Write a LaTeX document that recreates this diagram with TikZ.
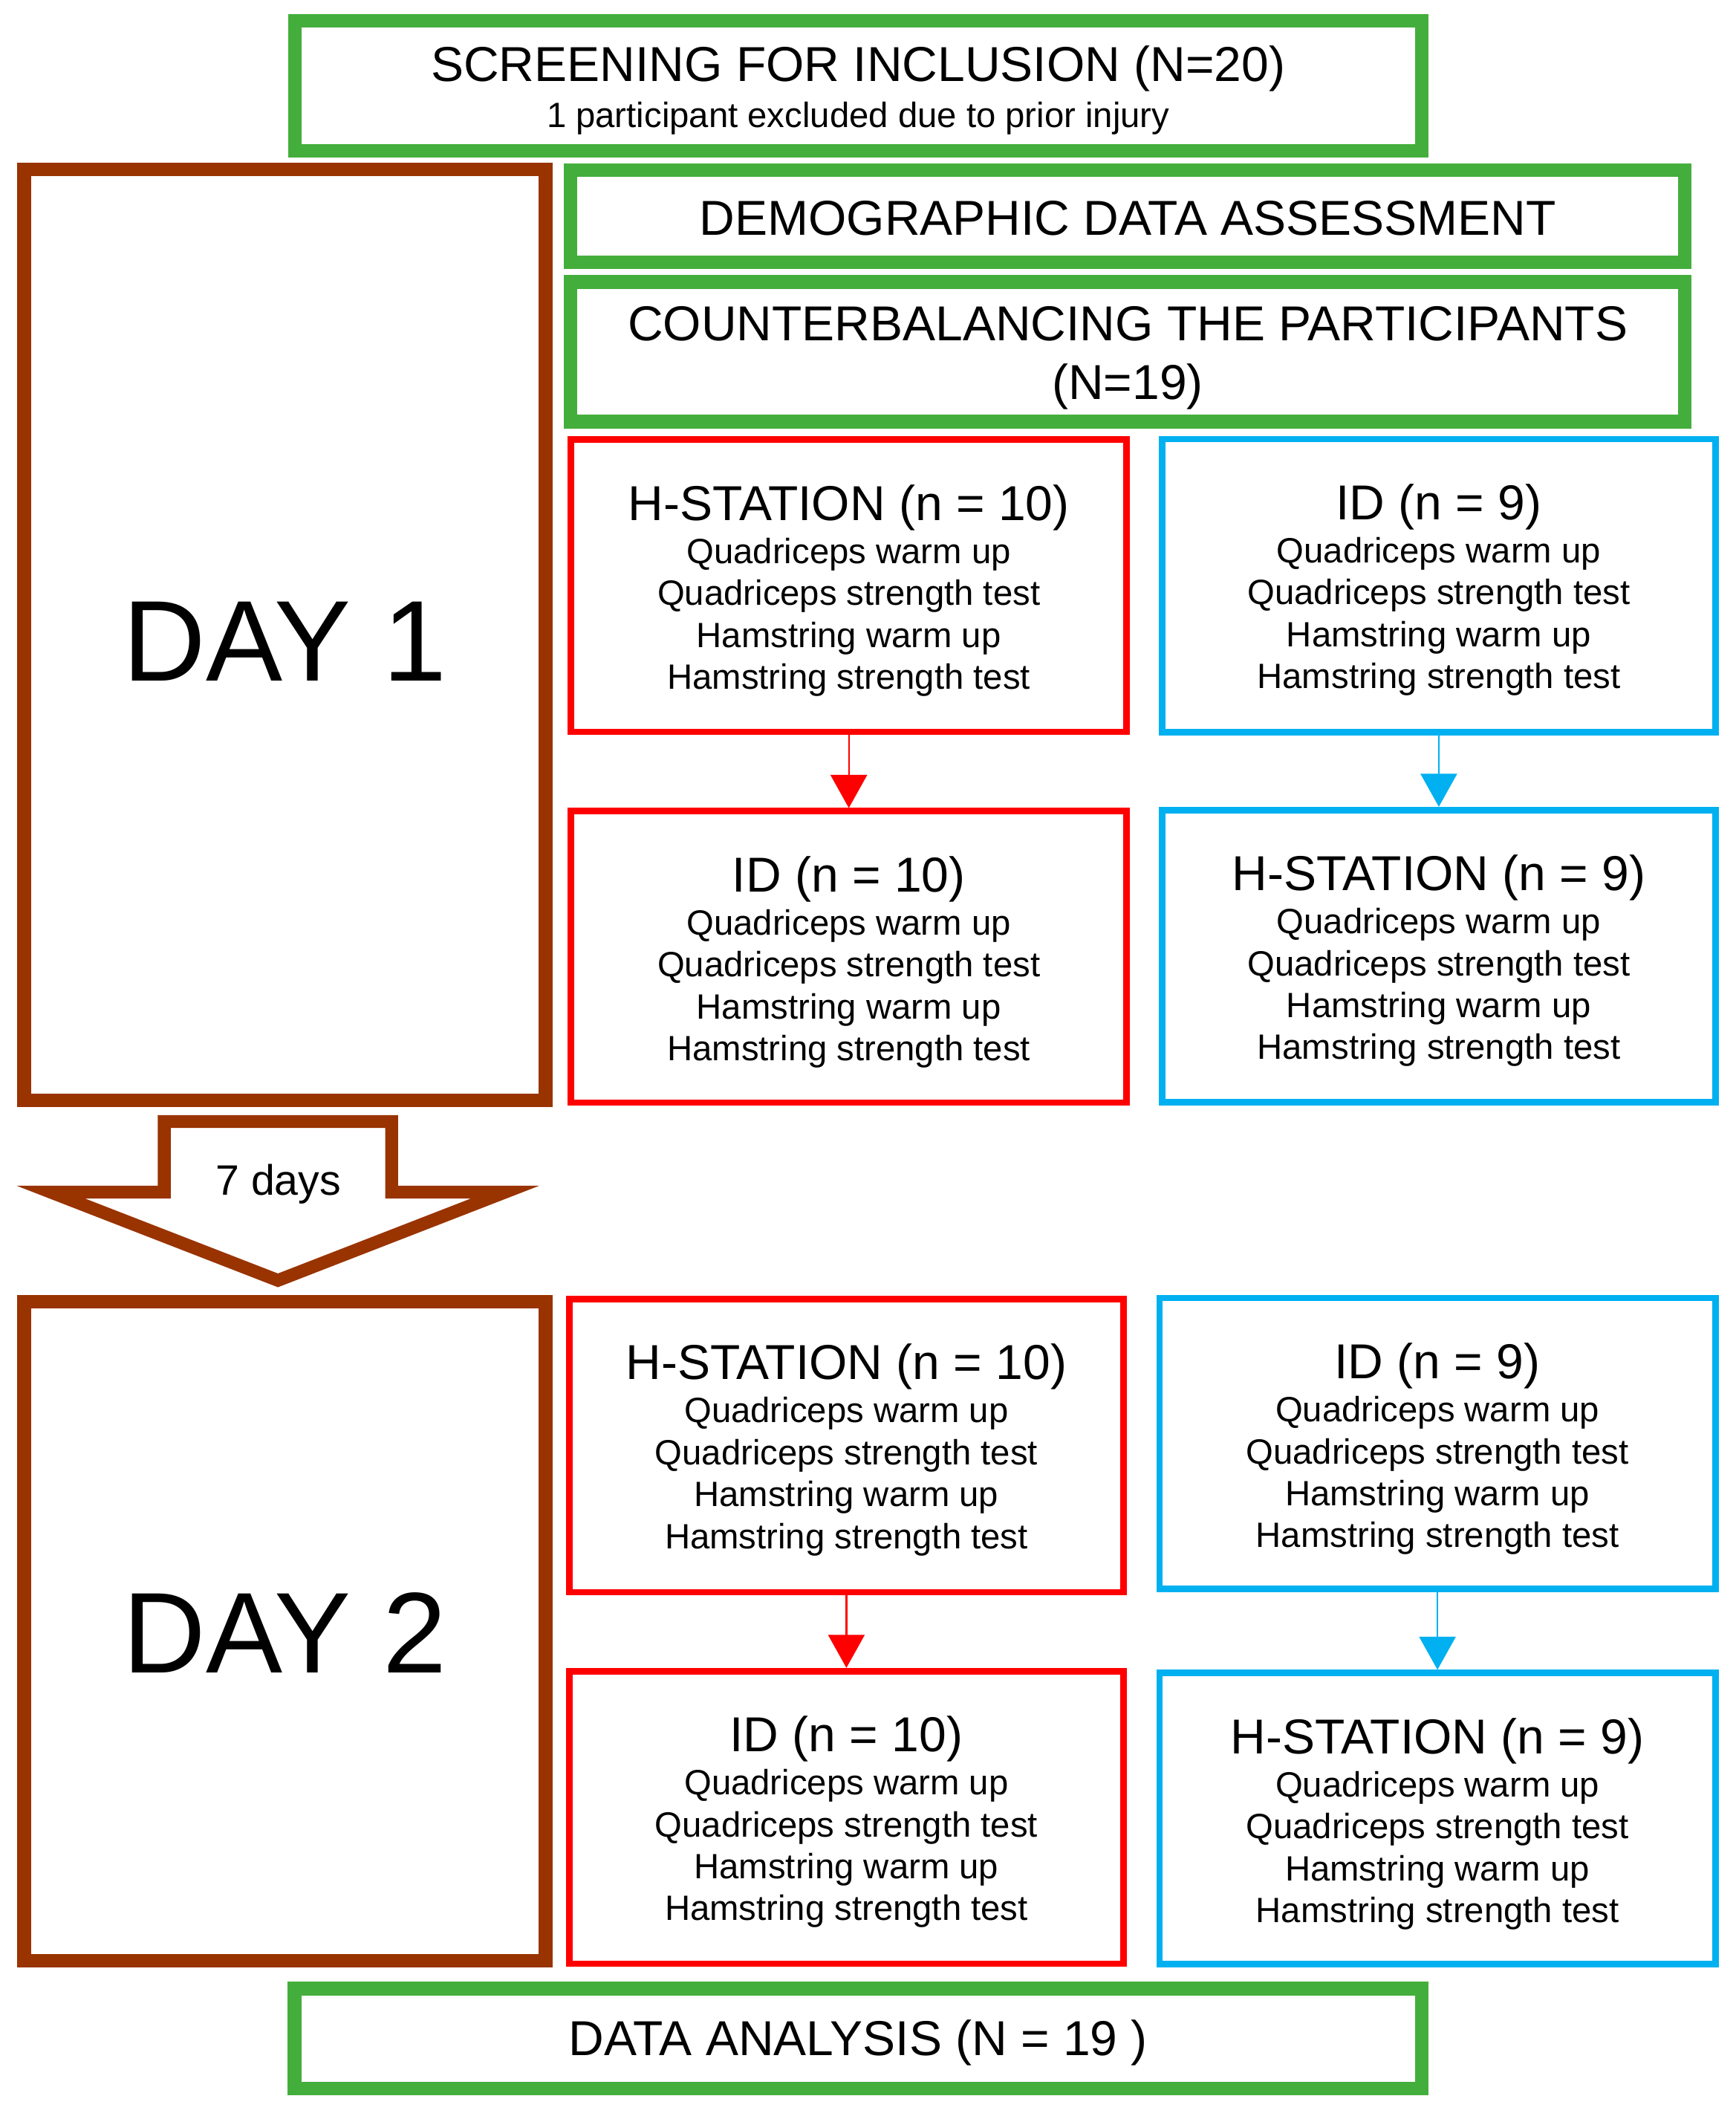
\documentclass[tikz,border=0pt]{standalone}
\usepackage{fontspec}
\setmainfont{Liberation Sans}
\usetikzlibrary{arrows.meta,calc}
\definecolor{grn}{RGB}{68,174,60}
\definecolor{brn}{RGB}{153,51,0}
\definecolor{rd}{RGB}{255,0,0}
\definecolor{blu}{RGB}{0,176,240}
\newcommand\myTitleFont{\fontsize{36.3}{43}\selectfont}
\newcommand\myBodyFont{\fontsize{26}{31}\selectfont}
\newcommand\myDayFont{\fontsize{85}{100}\selectfont}
\newcommand\myArrowFont{\fontsize{31.5}{38}\selectfont}
\newcommand\stationlines[2]{%
  \node[txt, font=\myTitleFont] (#1t) at ($(#1.north)+(0,62)$) {#2};
  \node[txt, font=\myBodyFont] (#1a) at ($(#1.north)+(0,94)$) {Quadriceps warm up};
  \node[txt, font=\myBodyFont] (#1b) at ($(#1.north)+(0,125)$) {Quadriceps strength test};
  \node[txt, font=\myBodyFont] (#1c) at ($(#1.north)+(0,156)$) {Hamstring warm up};
  \node[txt, font=\myBodyFont] (#1d) at ($(#1.north)+(0,187)$) {Hamstring strength test};
}
\begin{document}
\begin{tikzpicture}[x=1pt,y=-1pt,
  gbox/.style={draw=grn, line width=10pt, inner sep=0pt},
  bbox/.style={draw=brn, line width=10.2pt, inner sep=0pt},
  rbox/.style={draw=rd, line width=4.8pt, inner sep=0pt},
  cbox/.style={draw=blu, line width=4.8pt, inner sep=0pt},
  txt/.style={inner sep=0pt, anchor=base},
  rarr/.style={draw=rd, line width=1.3pt, -{Triangle[length=24.5pt,width=27pt]}},
  barr/.style={draw=blu, line width=1.3pt, -{Triangle[length=24.5pt,width=27pt]}}]
\useasboundingbox (0,0) rectangle (1285,1568.3);

% green boxes
\node[gbox, minimum width=834.1pt, minimum height=96.3pt] (scr) at (635.25,63.45) {};
\node[txt, font=\myTitleFont] (scrt) at (635.25,60.1) {SCREENING FOR INCLUSION (N=20)};
\node[txt, font=\myBodyFont] (scrs) at (635.25,94.5) {1 participant excluded due to prior injury};

\node[gbox, minimum width=824.6pt, minimum height=68.5pt] (demo) at (834.8,160.05) {};
\node[txt, font=\myTitleFont] (demot) at (834.8,173.8) {DEMOGRAPHIC DATA ASSESSMENT};

\node[gbox, minimum width=824.6pt, minimum height=103.4pt] (cb) at (834.8,260.4) {};
\node[txt, font=\myTitleFont] (cbt) at (834.8,252.1) {COUNTERBALANCING THE PARTICIPANTS};
\node[txt, font=\myTitleFont] (cbn) at (834.8,295.5) {(N=19)};

\node[gbox, minimum width=834.5pt, minimum height=74.1pt] (data) at (635.25,1508.85) {};
\node[txt, font=\myTitleFont] (datat) at (635.25,1521.5) {DATA ANALYSIS (N = 19 )};

% day boxes
\node[bbox, minimum width=386pt, minimum height=689.1pt] (day1) at (210.9,469.95) {};
\node[txt, font=\myDayFont] (day1t) at (210.9,503.8) {DAY 1};
\node[bbox, minimum width=386pt, minimum height=487.8pt] (day2) at (210.9,1207.2) {};
\node[txt, font=\myDayFont] (day2t) at (210.9,1238) {DAY 2};

% station boxes day 1
\node[rbox, minimum width=411.3pt, minimum height=216.2pt] (r1) at (628.35,433.5) {};
\node[rbox, minimum width=411.3pt, minimum height=215.7pt] (r2) at (628.35,708.25) {};
\node[cbox, minimum width=409.4pt, minimum height=216.9pt] (b1) at (1065.1,433.45) {};
\node[cbox, minimum width=409.4pt, minimum height=216.1pt] (b2) at (1065.1,707.55) {};
% station boxes day 2
\node[rbox, minimum width=410.5pt, minimum height=217pt] (r3) at (626.55,1069.9) {};
\node[rbox, minimum width=410.5pt, minimum height=216.6pt] (r4) at (626.55,1345.1) {};
\node[cbox, minimum width=411.4pt, minimum height=215.1pt] (b3) at (1064.1,1068.25) {};
\node[cbox, minimum width=411.4pt, minimum height=215.4pt] (b4) at (1064.1,1345.9) {};

\stationlines{r1}{H-STATION (n = 10)}
\stationlines{r2}{ID (n = 10)}
\stationlines{b1}{ID (n = 9)}
\stationlines{b2}{H-STATION (n = 9)}
\stationlines{r3}{H-STATION (n = 10)}
\stationlines{r4}{ID (n = 10)}
\stationlines{b3}{ID (n = 9)}
\stationlines{b4}{H-STATION (n = 9)}

% connectors
\draw[rarr] (r1.south) -- (r2.north);
\draw[barr] (b1.south) -- (b2.north);
\draw[rarr] (r3.south) -- (r4.north);
\draw[barr] (b3.south) -- (b4.north);

% 7 days block arrow
\coordinate (a1) at (121.6,830);
\coordinate (a2) at (289.9,830);
\coordinate (a3) at (289.9,882.3);
\coordinate (a4) at (373.9,882.3);
\coordinate (a5) at (205.75,947.6);
\coordinate (a6) at (37.6,882.3);
\coordinate (a7) at (121.6,882.3);
\draw[brn, line width=9.5pt, line join=miter] (a1) -- (a2) -- (a3) -- (a4) -- (a5) -- (a6) -- (a7) -- cycle;
\node[txt, font=\myArrowFont] (days) at (206.1,884.3) {7 days};
\end{tikzpicture}
\end{document}
